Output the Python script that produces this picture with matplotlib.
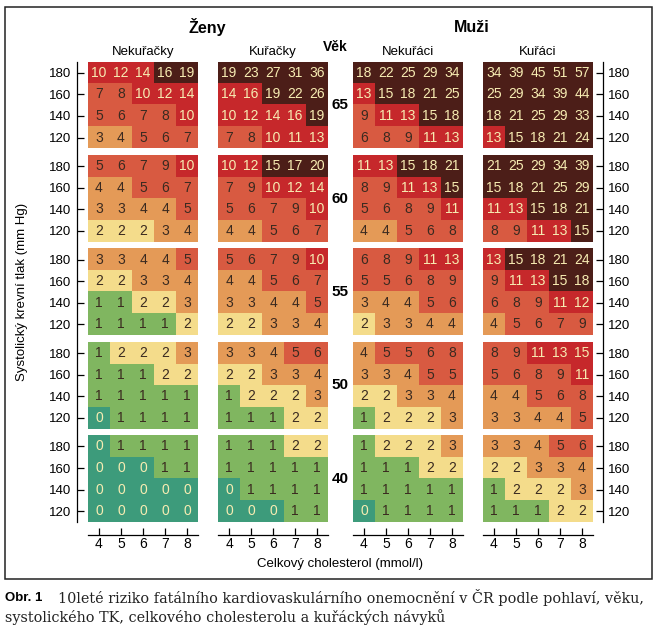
import numpy as np
import matplotlib.pyplot as plt
from matplotlib.colors import ListedColormap, BoundaryNorm
from matplotlib.patches import Rectangle

# --- data (rows: SBP 180,160,140,120 ; cols: cholesterol 4..8) ---
ages = [65, 60, 55, 50, 40]
sbp = [180, 160, 140, 120]
chol = [4, 5, 6, 7, 8]

zeny_nekuracky = [
    [[10, 12, 14, 16, 19], [7, 8, 10, 12, 14], [5, 6, 7, 8, 10], [3, 4, 5, 6, 7]],
    [[5, 6, 7, 9, 10], [4, 4, 5, 6, 7], [3, 3, 4, 4, 5], [2, 2, 2, 3, 4]],
    [[3, 3, 4, 4, 5], [2, 2, 3, 3, 4], [1, 1, 2, 2, 3], [1, 1, 1, 1, 2]],
    [[1, 2, 2, 2, 3], [1, 1, 1, 2, 2], [1, 1, 1, 1, 1], [0, 1, 1, 1, 1]],
    [[0, 1, 1, 1, 1], [0, 0, 0, 1, 1], [0, 0, 0, 0, 0], [0, 0, 0, 0, 0]],
]
zeny_kuracky = [
    [[19, 23, 27, 31, 36], [14, 16, 19, 22, 26], [10, 12, 14, 16, 19], [7, 8, 10, 11, 13]],
    [[10, 12, 15, 17, 20], [7, 9, 10, 12, 14], [5, 6, 7, 9, 10], [4, 4, 5, 6, 7]],
    [[5, 6, 7, 9, 10], [4, 4, 5, 6, 7], [3, 3, 4, 4, 5], [2, 2, 3, 3, 4]],
    [[3, 3, 4, 5, 6], [2, 2, 3, 3, 4], [1, 2, 2, 2, 3], [1, 1, 1, 2, 2]],
    [[1, 1, 1, 2, 2], [1, 1, 1, 1, 1], [0, 1, 1, 1, 1], [0, 0, 0, 1, 1]],
]
muzi_nekuraci = [
    [[18, 22, 25, 29, 34], [13, 15, 18, 21, 25], [9, 11, 13, 15, 18], [6, 8, 9, 11, 13]],
    [[11, 13, 15, 18, 21], [8, 9, 11, 13, 15], [5, 6, 8, 9, 11], [4, 4, 5, 6, 8]],
    [[6, 8, 9, 11, 13], [5, 5, 6, 8, 9], [3, 4, 4, 5, 6], [2, 3, 3, 4, 4]],
    [[4, 5, 5, 6, 8], [3, 3, 4, 5, 5], [2, 2, 3, 3, 4], [1, 2, 2, 2, 3]],
    [[1, 2, 2, 2, 3], [1, 1, 1, 2, 2], [1, 1, 1, 1, 1], [0, 1, 1, 1, 1]],
]
muzi_kuraci = [
    [[34, 39, 45, 51, 57], [25, 29, 34, 39, 44], [18, 21, 25, 29, 33], [13, 15, 18, 21, 24]],
    [[21, 25, 29, 34, 39], [15, 18, 21, 25, 29], [11, 13, 15, 18, 21], [8, 9, 11, 13, 15]],
    [[13, 15, 18, 21, 24], [9, 11, 13, 15, 18], [6, 8, 9, 11, 12], [4, 5, 6, 7, 9]],
    [[8, 9, 11, 13, 15], [5, 6, 8, 9, 11], [4, 4, 5, 6, 8], [3, 3, 4, 4, 5]],
    [[3, 3, 4, 5, 6], [2, 2, 3, 3, 4], [1, 2, 2, 2, 3], [1, 1, 1, 2, 2]],
]
panels = [zeny_nekuracky, zeny_kuracky, muzi_nekuraci, muzi_kuraci]
panel_titles = ["Nekuřačky", "Kuřačky", "Nekuřáci", "Kuřáci"]

# cells whose printed (rounded) value sits in the 10-14 % colour band in the original
band_exceptions = [(1, 65, 160, 5), (1, 65, 140, 7), (3, 50, 180, 8)]

# risk colour bands: 0, 1, 2, 3-4, 5-9, 10-14, >=15
colors = ['#3d9b7b', '#80b660', '#f4dc8b', '#e49a57', '#d85a41', '#c6282b', '#4c1e18']
bounds = [-0.5, 0.5, 1.5, 2.5, 4.5, 9.5, 14.5, 100]
cmap = ListedColormap(colors)
norm = BoundaryNorm(bounds, cmap.N)

W, H = 659, 635
fig = plt.figure(figsize=(W / 100, H / 100), dpi=100)
plt.rcParams['font.family'] = ['Liberation Sans Narrow', 'Liberation Sans', 'DejaVu Sans']

panel_x = [88, 218, 353, 483]
top_px, bot_px = 62, 522
gap = 0.326            # white gap between age blocks, in row units
pitch = 4 + gap
n_rows = 5 * 4 + 4 * gap

axes = []
for i, (blocks, x0) in enumerate(zip(panels, panel_x)):
    ax = fig.add_axes([x0 / W, 1 - bot_px / H, 110 / W, (bot_px - top_px) / H])
    axes.append(ax)
    yticks = []
    for b, age in enumerate(ages):
        vals = np.array(blocks[b], dtype=float)
        lev = vals.copy()
        for (p, a, s, c) in band_exceptions:
            if p == i and a == age:
                lev[sbp.index(s), chol.index(c)] = 12
        y0 = b * pitch
        ax.imshow(lev, cmap=cmap, norm=norm, aspect='auto', interpolation='nearest',
                  extent=(3.5, 8.5, y0 + 4, y0))
        for r in range(4):
            yticks.append(y0 + r + 0.5)
            for c in range(5):
                v = int(vals[r, c])
                tc = '#f7ecb2' if (lev[r, c] >= 9.5 or lev[r, c] < 0.5) else '#3a2a20'
                ax.text(chol[c], y0 + r + 0.5, str(v), ha='center', va='center',
                        fontsize=10, color=tc)
    ax.set_xlim(3.5, 8.5)
    ax.set_ylim(n_rows, 0)
    ax.set_xticks(chol)
    ax.set_xticklabels([str(c) for c in chol], fontsize=9.5)
    ax.spines['top'].set_visible(False)
    ax.spines['bottom'].set_position(('outward', 9))
    ax.tick_params(axis='x', direction='in', length=5, pad=2, width=0.9)
    ax.spines['bottom'].set_linewidth(0.9)
    if i == 0:
        ax.spines['right'].set_visible(False)
        ax.spines['left'].set_position(('outward', 8))
        ax.spines['left'].set_linewidth(0.9)
        ax.set_yticks(yticks)
        ax.set_yticklabels([str(s) for s in sbp] * len(ages), fontsize=9.5)
        ax.tick_params(axis='y', direction='in', length=5, pad=4, width=0.9)
    elif i == 3:
        ax.spines['left'].set_visible(False)
        ax.spines['right'].set_position(('outward', 7))
        ax.spines['right'].set_linewidth(0.9)
        ax.yaxis.tick_right()
        ax.set_yticks(yticks)
        ax.set_yticklabels([str(s) for s in sbp] * len(ages), fontsize=9.5)
        ax.tick_params(axis='y', direction='in', length=5, pad=4, width=0.9)
    else:
        ax.spines['left'].set_visible(False)
        ax.spines['right'].set_visible(False)
        ax.set_yticks([])
    ax.set_title(panel_titles[i], fontsize=9.5, pad=5)

# age labels between the women and men panels
for b, age in enumerate(ages):
    axes[1].text(9.05, b * pitch + 2, str(age), ha='center', va='center',
                 fontsize=11, fontweight='bold', clip_on=False)

fig.text(335 / W, 1 - 47 / H, "Věk", ha='center', va='center', fontsize=10, fontweight='bold')
fig.text(207 / W, 1 - 27 / H, "Ženy", ha='center', va='center', fontsize=11.5, fontweight='bold')
fig.text(472 / W, 1 - 27 / H, "Muži", ha='center', va='center', fontsize=11.5, fontweight='bold')
fig.text(22 / W, 1 - 292 / H, "Systolický krevní tlak (mm Hg)", rotation=90,
         ha='center', va='center', fontsize=9.5)
fig.text(340 / W, 1 - 564 / H, "Celkový cholesterol (mmol/l)", ha='center', va='center', fontsize=9.5)

fig.add_artist(Rectangle((5 / W, 1 - 579 / H), 647 / W, 572 / H, transform=fig.transFigure,
                         fill=False, edgecolor='#222222', linewidth=1.1))

# caption
fig.text(5 / W, 1 - 598 / H, "Obr. 1", ha='left', va='center', fontsize=9.5, fontweight='bold')
serif = ['DejaVu Serif']
fig.text(58 / W, 1 - 598 / H,
         "10leté riziko fatálního kardiovaskulárního onemocnění v ČR podle pohlaví, věku,",
         ha='left', va='center', fontsize=10.4, family=serif, color='#222222')
fig.text(5 / W, 1 - 617 / H, "systolického TK, celkového cholesterolu a kuřáckých návyků",
         ha='left', va='center', fontsize=10.4, family=serif, color='#222222')

fig.savefig("out.png", dpi=100)
